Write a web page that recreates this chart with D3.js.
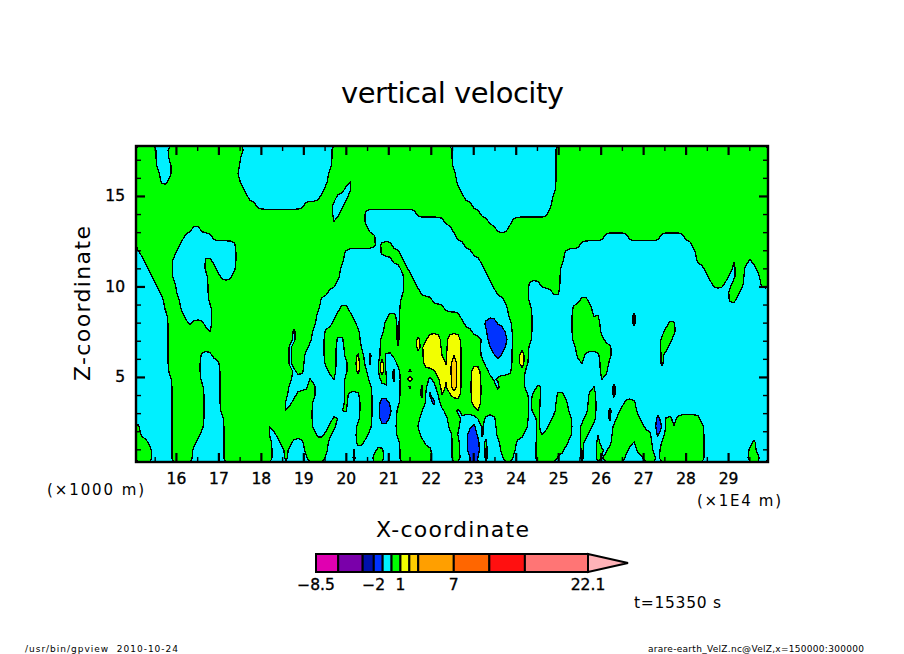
<!DOCTYPE html>
<html>
<head>
<meta charset="utf-8">
<style>
body { margin: 0; background: #fff; }
text { font-family: "DejaVu Sans", sans-serif; fill: #000; }
</style>
<script src="https://cdn.jsdelivr.net/npm/d3@7/dist/d3.min.js"></script>
</head>
<body>
<script>
// colour bar levels of VelZ and the colour of each band
var barLevels = [-8.5, -6, -3.25, -2, -1, 0, 1, 2, 3, 7, 11, 15, 22.1];
var barColors = ["#e000b0", "#7a00aa", "#0010aa", "#0033ff", "#00f0ff", "#00ff00",
  "#f2ff00", "#ffcc00", "#ff9f00", "#ff6600", "#ff1010", "#ff7575"];
var barLabels = [-8.5, -2, 1, 7, 22.1];

var xMajor = [16, 17, 18, 19, 20, 21, 22, 23, 24, 25, 26, 27, 28, 29];
var xMinor = [15.5, 16.5, 17.5, 18.5, 19.5, 20.5, 21.5, 22.5, 23.5, 24.5, 25.5, 26.5, 27.5, 28.5, 29.5];
var zMajor = [5, 10, 15];
var zMinor = [1, 2, 3, 4, 6, 7, 8, 9, 11, 12, 13, 14, 16, 17];

// velocity, one value per band
var cellValue = { b: -1.9, d: -1.15, c: -0.5, n: -0.15, p: 0.15, g: 0.5, y: 1.9, Y: 1.6, o: 2.95, O: 2.6 };
// thin slits, these cells stay as read when the grid is smoothed
var thinCells = "dnpYO";
var nCols = 158;

// VelZ grid from the top row down: each run is a band letter and the column it runs up to
var velZRows = [
  "g5 c8 g27 c49 g79 c105 g158",
  "g5 c8 g26 c49 g79 c105 g158",
  "g5 c9 g26 c49 g79 c105 g158",
  "g6 c9 g25 c48 g80 c105 g158",
  "g6 c8 g26 c48 g53 c54 g80 c105 g158",
  "g27 c47 g52 c54 g81 c105 g158",
  "g28 c46 g50 c53 g82 c104 g158",
  "g30 c42 g49 c52 g84 c104 g158",
  "g49 c51 g57 c70 g86 c103 g158",
  "g49 c50 g57 c77 g88 c94 g158",
  "g14 c16 g58 c79 g90 c93 g158",
  "g12 c19 g60 c80 g117 c123 g131 c137 g158",
  "g11 c25 g60 c61 g64 c82 g111 c139 g158",
  "c1 g10 c25 g52 c61 g66 c84 g107 c140 g158",
  "c2 g9 c17 g19 c25 g52 c64 g67 c86 g107 c140 g149 c150 g153 c154 g158",
  "c3 g9 c17 g20 c25 g51 c66 g68 c87 g106 c142 g149 c150 g152 c155 g158",
  "c4 g9 c18 g21 c24 g51 c67 g69 c88 g106 c143 g148 c150 g152 c156 g158",
  "c5 g10 c18 g50 c67 g70 c89 g98 c101 g106 c144 g147 c149 g152 c156 g158",
  "c6 g10 c18 g48 c67 g71 c90 g98 c104 g106 c148 g151 c158",
  "c7 g11 c18 g46 c66 g74 c92 g98 c111 g113 c148 g150 c158",
  "c7 g11 c19 g46 c51 g53 c66 g77 c93 g99 c109 g114 c158",
  "c8 g12 c19 g45 c50 g54 c63 g65 c66 g81 c93 g99 c109 g114 c115 g116 c124 d125 c158",
  "c8 g13 c14 g17 c19 g45 c49 g55 c62 g65 c66 g82 c87 b90 c94 g99 c109 g116 c124 d125 c133 g135 c158",
  "c8 g18 c19 g39 n40 g44 c47 g56 c62 g65 c66 g84 c88 b92 c94 g99 c109 g116 c132 g135 c158",
  "c8 g39 n40 g44 c47 g50 c52 g56 c61 g65 c66 g70 y71 g73 y76 g78 y81 g87 c88 b93 c94 g99 c109 g117 c131 g134 c158",
  "c8 g38 n39 g43 c47 g50 c52 g56 c61 g65 c66 g70 y71 g72 y76 g78 y81 g86 c89 b92 c94 g98 c110 g119 c131 g133 c158",
  "c8 g16 c19 g38 n39 g42 c47 g50 c52 g55 y56 g57 c58 b59 c61 g62 c64 g72 y76 g78 y81 g86 c90 b91 c94 g96 Y97 g98 c110 g112 c116 g119 c131 g132 c158",
  "c8 g16 c21 g38 n39 g42 c47 g50 c53 g55 y56 g57 c58 b59 c61 Y62 c65 g72 y77 g78 y79 O80 y81 g87 c94 g96 Y97 g98 c111 g112 c116 g118 c131 p132 c158",
  "c8 g16 c21 g39 n40 g42 c48 g50 c53 g55 y56 g58 c61 Y62 c64 d65 c66 g68 n69 g75 y77 g78 y79 O80 y81 g84 y86 g88 c94 g97 c116 g118 c158",
  "c9 g16 c21 g39 c43 g44 c49 g50 c52 g58 c61 g63 c64 d65 c66 g68 Y69 g73 c74 g76 y77 g78 y79 O80 y81 g84 y86 g89 c90 g97 c116 g117 c158",
  "c9 g17 c21 g38 c43 g45 c52 g59 c62 g63 c66 g68 n69 g71 y72 g73 b74 c75 g76 y77 g78 y79 O80 y81 g84 y86 g90 n91 g97 c100 g102 c114 g115 c119 d120 c158",
  "c9 g17 c21 g38 c40 g45 c52 g53 c56 g59 c66 g71 y72 c73 b74 c76 y77 g79 y81 g84 y86 g98 c99 g101 c105 g107 c113 g115 c119 d120 c158",
  "c9 g17 c21 g37 c39 g44 c52 g53 c56 g59 c61 b63 c66 g71 y72 c74 d75 c76 g79 c80 g84 y86 g98 c99 g101 c105 g108 c113 g115 c122 g125 c158",
  "c9 g17 c21 g37 c38 g44 c51 g53 c56 g59 c61 b64 c65 g71 c77 g80 n81 g85 y86 g98 c99 g101 c105 g108 c113 g115 c118 d119 c121 g125 c158",
  "c9 g17 c22 g44 c49 g51 c56 g59 c61 b63 c65 g71 c78 g81 c86 g87 c90 g98 c100 g101 c104 g109 c112 g115 c118 d119 c120 g126 c130 b131 c132 g134 c135 g141 c158",
  "g1 c9 g17 c22 g33 c34 g44 c48 g50 c55 g59 c65 g70 c78 g81 c84 b85 c86 g87 c90 g98 c100 g101 c103 g109 c111 g114 c119 g127 c130 b132 g134 c135 g142 c158",
  "g1 c9 g16 c22 g33 c35 g45 c47 g49 c55 g58 c65 g71 c79 g80 c83 b85 c86 g87 c90 g93 c94 g97 c100 g101 c102 g109 c111 g113 c115 g116 c119 g129 c130 b131 c132 g142 c158",
  "g3 c9 g15 c22 g34 c36 g39 c42 g48 c55 g57 c66 g72 c79 g81 c83 b86 g88 c91 g93 c94 g95 c100 g108 c111 g112 c115 g116 c119 g124 c125 g129 c131 g142 c154 p155 c158",
  "g4 c9 g14 c22 g34 c37 g38 c42 g48 c54 g55 c60 g62 c66 g74 c79 g81 c83 b86 c87 g88 c91 g95 c100 g107 c111 g112 c115 g117 c118 g123 c125 g129 c131 g142 c153 g155 c158",
  "g4 c9 g14 c22 g34 c37 g38 c43 g47 c54 g55 c59 g62 c66 g74 c79 g81 c84 b85 c87 g88 c92 g94 c100 g105 c111 g112 c115 g116 c117 g122 c127 g130 c131 g142 c153 g156 c158"
];

var width = 904;
var height = 654;

var svg = d3.select("body")
  .append("svg")
  .attr("width", width)
  .attr("height", height)
  .style("display", "block");

svg.append("rect").attr("width", width).attr("height", height).attr("fill", "#fff");

// scales of the viewport
var x = d3.scaleLinear().domain([15.06, 29.94]).range([136, 768]);
var z = d3.scaleLinear().domain([0.3, 17.76]).range([462, 146]);

// grid cell coordinates to data coordinates
var gridX = d3.scaleLinear().domain([0, nCols]).range(x.domain());
var gridZ = d3.scaleLinear().domain([0, velZRows.length]).range([17.76, 0.3]);

var velZ = [];
var letters = [];
velZRows.forEach(function(row) {
  var col = 0;
  row.split(" ").forEach(function(run) {
    var end = +run.slice(1);
    for (; col < end; col++) {
      velZ.push(cellValue[run[0]]);
      letters.push(run[0]);
    }
  });
});

// soften the steps of the hand read grid, only a little
var smooth = d3.blur2({ data: Float64Array.from(velZ), width: nCols }, 0.1, 0.15).data;
letters.forEach(function(l, i) {
  if (thinCells.indexOf(l) >= 0) smooth[i] = velZ[i];
});

var contours = d3.contours()
  .size([nCols, velZRows.length])
  .thresholds(barLevels.slice(0, -1));

var project = d3.geoTransform({
  point: function(cx, cy) {
    this.stream.point(x(gridX(cx)), z(gridZ(cy)));
  }
});
var geoPath = d3.geoPath(project);

svg.append("clipPath").attr("id", "plot")
  .append("rect")
  .attr("x", 136).attr("y", 146).attr("width", 632).attr("height", 316);

var g = svg.append("g").attr("clip-path", "url(#plot)");

g.selectAll("path")
  .data(contours(smooth))
  .enter()
  .append("path")
  .attr("d", geoPath)
  .attr("fill", function(d) { return barColors[barLevels.indexOf(d.value)]; })
  .attr("stroke", "#000")
  .attr("stroke-width", 1.3)
  .attr("shape-rendering", "crispEdges");

// ticks point into the frame, on all four sides
function ticks(axis, values, size, transform, labelled) {
  var a = svg.append("g")
    .attr("transform", transform)
    .call(axis.tickValues(values).tickSize(-size).tickPadding(11)
      .tickFormat(labelled ? d3.format("d") : ""));
  a.select(".domain").remove();
  a.selectAll("line").attr("stroke", "#000").attr("stroke-width", size > 6 ? 2.2 : 1.4);
  a.selectAll("text")
    .style("font-size", "15.5px")
    .style("font-family", "DejaVu Sans")
    .attr("fill", "#000")
    .attr("stroke", "#000")
    .attr("stroke-width", 0.35);
}

ticks(d3.axisBottom(x), xMajor, 9, "translate(0,462)", true);
ticks(d3.axisBottom(x), xMinor, 5, "translate(0,462)", false);
ticks(d3.axisTop(x), xMajor, 9, "translate(0,146)", false);
ticks(d3.axisTop(x), xMinor, 5, "translate(0,146)", false);
ticks(d3.axisLeft(z), zMajor, 9, "translate(136,0)", true);
ticks(d3.axisLeft(z), zMinor, 5, "translate(136,0)", false);
ticks(d3.axisRight(z), zMajor, 9, "translate(768,0)", false);
ticks(d3.axisRight(z), zMinor, 5, "translate(768,0)", false);

svg.append("rect")
  .attr("x", 136).attr("y", 146).attr("width", 632).attr("height", 316)
  .attr("fill", "none").attr("stroke", "#000").attr("stroke-width", 2.4);

function label(str, px, py, size, length, anchor) {
  return svg.append("text")
    .attr("x", px).attr("y", py)
    .attr("text-anchor", anchor || "start")
    .attr("textLength", length)
    .attr("lengthAdjust", "spacing")
    .style("font-size", size + "px")
    .text(str);
}

label("vertical velocity", 341, 103, 29, 223);
label("X-coordinate", 376, 537, 22, 153);
label("Z-coordinate", 0, 0, 22, 155)
  .attr("transform", "translate(90,381) rotate(-90)");
label("(×1000 m)", 47, 495, 15, 97);
label("(×1E4 m)", 697, 506, 15, 84);
label("t=15350 s", 634, 608, 15.5, 87);
label("/usr/bin/gpview  2010-10-24", 25, 652, 9, 153).attr("xml:space", "preserve");
label("arare-earth_VelZ.nc@VelZ,x=150000:300000", 648, 652, 9, 216);

// colour bar
var bar = d3.scaleLinear().domain([-8.5, 22.1]).range([316, 588]);

svg.append("path")
  .attr("d", d3.line()([[bar(22.1), 554], [628, 563], [bar(22.1), 572]]) + "Z")
  .attr("fill", "#ffb3b8").attr("stroke", "#000").attr("stroke-width", 2);

svg.selectAll(".band")
  .data(d3.pairs(barLevels))
  .enter()
  .append("rect")
  .attr("class", "band")
  .attr("x", function(d) { return bar(d[0]); })
  .attr("y", 554)
  .attr("width", function(d) { return bar(d[1]) - bar(d[0]); })
  .attr("height", 18)
  .attr("fill", function(d, i) { return barColors[i]; })
  .attr("stroke", "#000")
  .attr("stroke-width", 2);

svg.selectAll(".barLabel")
  .data(barLabels)
  .enter()
  .append("text")
  .attr("class", "barLabel")
  .attr("x", function(d) { return bar(d); })
  .attr("y", 590)
  .attr("text-anchor", "middle")
  .attr("stroke", "#000")
  .attr("stroke-width", 0.35)
  .style("font-size", "15.5px")
  .text(function(d) { return String(d).replace("-", "\u2212"); });
</script>
</body>
</html>
